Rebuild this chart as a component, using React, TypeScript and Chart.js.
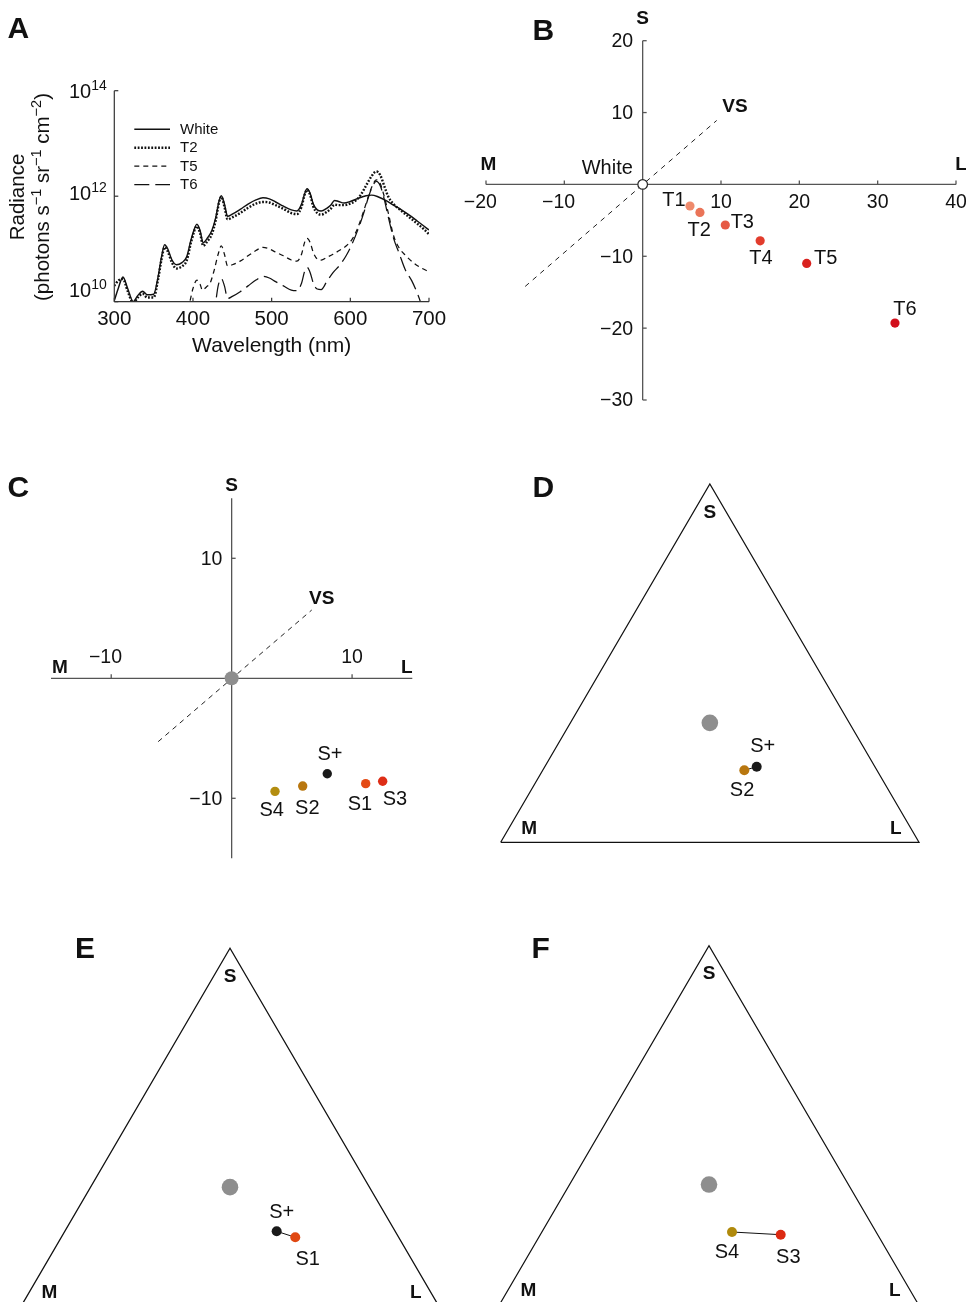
import React, { useEffect, useRef } from "react";
import { Chart, registerables } from "chart.js";

Chart.register(...registerables);

const FONT = "'Liberation Sans', Arial, Helvetica, sans-serif";
Chart.defaults.font.family = FONT;

const INK = "#111111";
const AXIS_A = "#333333";
const AXIS_B = "#555555";
const GRAY_DOT = "#8e8e8e";

// ---------------- Panel A data (wavelength nm, log10 radiance) ----------------
const whiteWl = [300,305,311,317,324,330,336,342,350,356,360,364,368,373,379,386,392,398,405,409,413,418,424,429,433,436,440,444,450,460,470,480,489,497,505,515,525,532,538,542,545,549,553,558,563,570,575,580,585,592,600,610,620,627,635,645,655,665,675,685,693,700];
const whiteLog10 = [10.02,10.25,10.47,10.25,10.0,10.12,10.2,10.13,10.14,10.5,10.85,11.08,11.0,10.8,10.7,10.74,10.85,11.2,11.47,11.35,11.12,11.2,11.35,11.6,11.9,12.01,11.85,11.62,11.66,11.75,11.85,11.93,11.97,11.95,11.89,11.81,11.74,11.72,11.85,12.05,12.14,12.05,11.85,11.74,11.72,11.77,11.83,11.92,11.9,11.87,11.9,11.96,12.01,12.02,11.99,11.92,11.83,11.74,11.64,11.53,11.44,11.36];

const t2Wl = [300,305,311,317,324,330,336,342,350,356,360,364,368,373,379,386,392,398,405,409,413,418,424,429,433,436,440,444,450,460,470,480,489,497,505,515,525,532,538,542,545,549,553,558,563,570,575,580,585,592,600,607,613,620,627,633,638,643,648,655,665,675,685,693,700];
const t2Log10 = [10.3,10.4,10.43,10.2,9.98,10.08,10.15,10.08,10.08,10.45,10.8,11.03,10.95,10.75,10.63,10.67,10.78,11.15,11.43,11.3,11.06,11.14,11.28,11.55,11.87,11.99,11.8,11.56,11.6,11.68,11.78,11.86,11.89,11.88,11.83,11.76,11.68,11.66,11.8,12.03,12.12,12.02,11.8,11.68,11.65,11.7,11.76,11.84,11.83,11.83,11.86,11.92,12.02,12.2,12.38,12.47,12.4,12.2,12.0,11.85,11.72,11.6,11.48,11.38,11.28];

const t5Wl = [350,356,362,368,376,388,396,400,405,409,412,417,422,427,432,436,440,444,450,460,470,480,489,497,505,515,525,532,538,542,545,549,553,558,563,570,578,587,595,603,610,617,623,628,633,638,643,648,655,662,670,680,690,700];
const t5Log10 = [9.6,9.85,10.03,9.85,9.5,9.6,10.0,10.25,10.41,10.33,10.22,10.28,10.36,10.6,10.9,11.06,10.9,10.68,10.7,10.77,10.87,10.97,11.03,11.0,10.94,10.87,10.79,10.77,10.9,11.13,11.2,11.12,10.93,10.81,10.79,10.84,10.9,10.98,11.06,11.2,11.42,11.72,12.0,12.2,12.31,12.24,12.0,11.7,11.25,11.02,10.88,10.74,10.64,10.57];

const t6Wl = [420,428,432,436,440,444,450,460,470,480,489,497,505,515,525,532,538,542,545,549,553,558,563,570,578,587,595,603,610,617,623,628,633,638,643,648,655,662,670,678,684,690,695,700];
const t6Log10 = [9.3,9.9,10.3,10.44,10.3,10.06,10.1,10.19,10.3,10.41,10.48,10.45,10.38,10.3,10.22,10.21,10.35,10.58,10.65,10.55,10.35,10.24,10.23,10.38,10.55,10.7,10.88,11.12,11.38,11.68,11.98,12.18,12.28,12.2,11.95,11.62,11.2,10.92,10.6,10.4,10.2,9.95,9.6,9.3];

const aXTicks = [300, 400, 500, 600, 700];
const aYTickExp = [10, 12, 14];

// ---------------- Panel B data (L, S) ----------------
const tNames = ["T1", "T2", "T3", "T4", "T5", "T6"];
const tL = [6.04, 7.31, 10.55, 15.0, 20.94, 32.21];
const tS = [-3.0, -3.9, -5.65, -7.85, -11.0, -19.3];
const whiteL = [0];
const whiteS = [0];
const vsBL = [-15.0, 9.45];
const vsBS = [-14.2, 8.9];
const bXTicks = [-20, -10, 10, 20, 30, 40];
const bYTicks = [20, 10, -10, -20, -30];

// ---------------- Panel C data (L, S) ----------------
const sNamesC = ["S4", "S2", "S+", "S1", "S3"];
const sLC = [3.6, 5.9, 7.94, 11.13, 12.54];
const sSC = [-9.42, -8.98, -7.95, -8.78, -8.58];
const greyL = [0];
const greyS = [0];
const vsCL = [-6.1, 6.65];
const vsCS = [-5.28, 5.69];
const cXTicks = [-10, 10];
const cYTicks = [10, -10];

// ---------------- Panels D, E, F (Maxwell triangle plane) ----------------
const triX = [0, 0.5, 1, 0];
const triY = [0, 0.866, 0, 0];
const centroidX = [0.5];
const centroidY = [0.2887];
const dNames = ["S+", "S2"];
const dX = [0.612, 0.5824];
const dY = [0.1827, 0.174];
const eNames = ["S+", "S1"];
const eX = [0.6116, 0.656];
const eY = [0.182, 0.1675];
const fNames = ["S4", "S3"];
const fX = [0.555, 0.6714];
const fY = [0.174, 0.1675];

// ---------------- styles ----------------
const tColors = ["#ef8a6c", "#ea7458", "#e65a44", "#e23c2c", "#d9221f", "#d20f1c"];
const cColors = ["#b38d10", "#b9770f", "#1a1a1a", "#e44a14", "#de2d16"];
const dColors = ["#1a1a1a", "#b8770f"];
const eColors = ["#1a1a1a", "#e04812"];
const fColors = ["#b08a0c", "#dc2a12"];

const tLabelOffsets = [[-16, -5], [-0.7, 18.4], [17, -2.3], [0.7, 17.6], [19, -4.7], [10, -13.3]];
const cLabelOffsets = [[-3.3, 18.7], [4.6, 22.3], [2.7, -19.7], [-5.7, 21.3], [12.3, 18.7]];
const dLabelOffsets = [[6, -20.7], [-2.3, 19.7]];
const eLabelOffsets = [[5, -18.6], [12.4, 21.7]];
const fLabelOffsets = [[-5, 20.7], [7.6, 22.6]];
const aYLabelShift = [-10, -2, 2];

type Box = { left: number; top: number; width: number; height: number };
type Area = { l: number; t: number; r: number; b: number };

const A_BOX: Box = { left: 0, top: 0, width: 470, height: 380 };
const A_AREA: Area = { l: 114.3, t: 90.7, r: 429, b: 301.7 };
const B_BOX: Box = { left: 450, top: 0, width: 516, height: 430 };
const B_AREA: Area = { l: 486, t: 40.7, r: 956, b: 400 };
const C_BOX: Box = { left: 0, top: 460, width: 470, height: 420 };
const C_AREA: Area = { l: 51, t: 498.3, r: 412.3, b: 858.3 };
const D_BOX: Box = { left: 470, top: 460, width: 496, height: 420 };
const D_AREA: Area = { l: 500.7, t: 484, r: 919, b: 842.3 };
const E_BOX: Box = { left: 0, top: 920, width: 470, height: 400 };
const E_AREA: Area = { l: 20.85, t: 948.3, r: 439.15, b: 1306.6 };
const F_BOX: Box = { left: 470, top: 920, width: 496, height: 400 };
const F_AREA: Area = { l: 499.85, t: 945.7, r: 918.15, b: 1304 };

function pad(box: Box, a: Area) {
  return { left: a.l - box.left, top: a.t - box.top, right: box.left + box.width - a.r, bottom: box.top + box.height - a.b };
}

function makeXY(xs: number[], ys: number[]) {
  return xs.map((x, i) => ({ x, y: ys[i] }));
}
function makeLogXY(xs: number[], logs: number[]) {
  return xs.map((x, i) => ({ x, y: Math.pow(10, logs[i]) }));
}

function fnt(size: number, bold = false) {
  return `${bold ? "bold " : ""}${size}px ${FONT}`;
}

function drawText(ctx: CanvasRenderingContext2D, s: string, x: number, y: number, size: number, opts: { bold?: boolean; align?: CanvasTextAlign; color?: string } = {}) {
  ctx.save();
  ctx.font = fnt(size, opts.bold);
  ctx.fillStyle = opts.color ?? INK;
  ctx.textAlign = opts.align ?? "center";
  ctx.textBaseline = "middle";
  ctx.fillText(s, x, y);
  ctx.restore();
}

// tick number whose digits are centred on the tick, with the minus sign hanging to the left
function drawTickNumber(ctx: CanvasRenderingContext2D, v: number, x: number, y: number, size: number) {
  ctx.save();
  ctx.font = fnt(size);
  const digits = String(Math.abs(v));
  const w = ctx.measureText(digits).width;
  ctx.fillStyle = INK;
  ctx.textBaseline = "middle";
  ctx.textAlign = "right";
  ctx.fillText((v < 0 ? "\u2212" : "") + digits, x + w / 2, y);
  ctx.restore();
}

type Run = { t: string; sup?: boolean };
function drawRuns(ctx: CanvasRenderingContext2D, runs: Run[], x: number, y: number, size: number, supSize: number, rise: number, align: "left" | "center" | "right") {
  ctx.save();
  ctx.textBaseline = "middle";
  ctx.textAlign = "left";
  ctx.fillStyle = INK;
  const widths = runs.map((r) => {
    ctx.font = fnt(r.sup ? supSize : size);
    return ctx.measureText(r.t).width;
  });
  const total = widths.reduce((a, b) => a + b, 0);
  let cx = align === "left" ? x : align === "center" ? x - total / 2 : x - total;
  runs.forEach((r, i) => {
    ctx.font = fnt(r.sup ? supSize : size);
    ctx.fillText(r.t, cx, r.sup ? y - rise : y);
    cx += widths[i];
  });
  ctx.restore();
}

function seg(ctx: CanvasRenderingContext2D, x1: number, y1: number, x2: number, y2: number) {
  ctx.beginPath();
  ctx.moveTo(x1, y1);
  ctx.lineTo(x2, y2);
  ctx.stroke();
}

const minus = (v: number) => (v < 0 ? "\u2212" + Math.abs(v) : String(v));

const baseOptions = (box: Box, area: Area) => ({
  animation: false,
  responsive: false,
  maintainAspectRatio: false,
  events: [],
  layout: { padding: pad(box, area), autoPadding: false },
  plugins: { legend: { display: false }, tooltip: { enabled: false }, title: { display: false } },
});

// ---------------- Panel A ----------------
const panelAPlugin = {
  id: "panelA",
  afterDatasetsDraw(chart: any) {
    const ctx: CanvasRenderingContext2D = chart.ctx;
    const ca = chart.chartArea;
    const xs = chart.scales.x;
    const ys = chart.scales.y;
    ctx.save();
    ctx.strokeStyle = AXIS_A;
    ctx.lineWidth = 1.2;
    ctx.setLineDash([]);
    seg(ctx, ca.left, ca.top, ca.left, ca.bottom);
    seg(ctx, ca.left, ca.bottom, ca.right, ca.bottom);
    aXTicks.forEach((v) => {
      const px = xs.getPixelForValue(v);
      seg(ctx, px, ca.bottom, px, ca.bottom - 4);
      drawText(ctx, String(v), px, ca.bottom + 17.5, 20.5);
    });
    aYTickExp.forEach((e, i) => {
      const py = ys.getPixelForValue(Math.pow(10, e));
      seg(ctx, ca.left, py, ca.left + 4, py);
      drawRuns(ctx, [{ t: "10" }, { t: String(e), sup: true }], ca.left - 7.5, py + aYLabelShift[i], 20, 14, 6.5, "right");
    });
    drawText(ctx, "Wavelength (nm)", (ca.left + ca.right) / 2, 346.7 - A_BOX.top, 21);
    // y title
    ctx.save();
    ctx.translate(18.3 - A_BOX.left, 197 - A_BOX.top);
    ctx.rotate(-Math.PI / 2);
    drawText(ctx, "Radiance", 0, 0, 20.5);
    ctx.restore();
    ctx.save();
    ctx.translate(43.5 - A_BOX.left, 197 - A_BOX.top);
    ctx.rotate(-Math.PI / 2);
    drawRuns(ctx, [
      { t: "(photons s" }, { t: "\u22121", sup: true }, { t: " sr" }, { t: "\u22121", sup: true }, { t: " cm" }, { t: "\u22122", sup: true }, { t: ")" },
    ], 0, 0, 20.5, 14.5, 7, "center");
    ctx.restore();
    // legend
    chart.data.datasets.forEach((ds: any, i: number) => {
      const y = ca.top + 38.6 + i * 18.4;
      ctx.strokeStyle = INK;
      ctx.lineWidth = ds.borderWidth;
      ctx.setLineDash(ds.borderDash || []);
      seg(ctx, ca.left + 20, y, ca.left + 55.7, y);
      ctx.setLineDash([]);
      drawText(ctx, ds.label, ca.left + 65.7, y + 0.5, 15, { align: "left" });
    });
    drawText(ctx, "A", 18.3 - A_BOX.left, 30 - A_BOX.top, 30, { bold: true });
    ctx.restore();
  },
};

function configA() {
  const common = { pointRadius: 0, fill: false, cubicInterpolationMode: "monotone", borderColor: INK };
  return {
    type: "line",
    data: {
      datasets: [
        { ...common, label: "White", data: makeLogXY(whiteWl, whiteLog10), borderWidth: 1.45, borderDash: [] },
        { ...common, label: "T2", data: makeLogXY(t2Wl, t2Log10), borderWidth: 2.4, borderDash: [1.8, 1.6] },
        { ...common, label: "T5", data: makeLogXY(t5Wl, t5Log10), borderWidth: 1.25, borderDash: [5, 4] },
        { ...common, label: "T6", data: makeLogXY(t6Wl, t6Log10), borderWidth: 1.25, borderDash: [15, 6] },
      ],
    },
    options: {
      ...baseOptions(A_BOX, A_AREA),
      scales: {
        x: { type: "linear", min: 300, max: 700, display: false },
        y: { type: "logarithmic", min: 1e10, max: 1e14, display: false },
      },
    },
    plugins: [panelAPlugin],
  };
}

// ---------------- Panel B ----------------
const panelBPlugin = {
  id: "panelB",
  beforeDatasetsDraw(chart: any) {
    const ctx: CanvasRenderingContext2D = chart.ctx;
    const xs = chart.scales.x;
    const ys = chart.scales.y;
    const x0 = xs.getPixelForValue(0);
    const y0 = ys.getPixelForValue(0);
    ctx.save();
    ctx.strokeStyle = AXIS_B;
    ctx.lineWidth = 1.3;
    seg(ctx, xs.getPixelForValue(-20), y0, xs.getPixelForValue(40), y0);
    seg(ctx, x0, ys.getPixelForValue(20), x0, ys.getPixelForValue(-30));
    bXTicks.forEach((v) => {
      const px = xs.getPixelForValue(v);
      seg(ctx, px, y0, px, y0 - 4);
      drawTickNumber(ctx, v, px, y0 + 18, 19.5);
    });
    bYTicks.forEach((v) => {
      const py = ys.getPixelForValue(v);
      seg(ctx, x0, py, x0 + 4, py);
      drawText(ctx, minus(v), x0 - 9.5, py + 1, 19.5, { align: "right" });
    });
    ctx.restore();
  },
  afterDatasetsDraw(chart: any) {
    const ctx: CanvasRenderingContext2D = chart.ctx;
    const xs = chart.scales.x;
    const ys = chart.scales.y;
    const x0 = xs.getPixelForValue(0);
    const y0 = ys.getPixelForValue(0);
    drawText(ctx, "S", x0, ys.getPixelForValue(20) - 22.4, 19, { bold: true });
    drawText(ctx, "M", xs.getPixelForValue(-20) + 2.3, y0 - 19.6, 19, { bold: true });
    drawText(ctx, "L", xs.getPixelForValue(40) + 5, y0 - 19.6, 19, { bold: true });
    const vsEnd = chart.getDatasetMeta(2).data[1];
    drawText(ctx, "VS", vsEnd.x + 18.3, vsEnd.y - 14, 19, { bold: true });
    drawText(ctx, "White", x0 - 35.4, y0 - 15.7, 20);
    chart.getDatasetMeta(0).data.forEach((pt: any, i: number) => {
      drawText(ctx, tNames[i], pt.x + tLabelOffsets[i][0], pt.y + tLabelOffsets[i][1], 20);
    });
    drawText(ctx, "B", 543.3 - B_BOX.left, 31.7 - B_BOX.top, 30, { bold: true });
  },
};

function configB() {
  return {
    type: "scatter",
    data: {
      datasets: [
        { label: "T", data: makeXY(tL, tS), backgroundColor: tColors, borderWidth: 0, pointRadius: 4.6, order: 0 },
        { label: "White", data: makeXY(whiteL, whiteS), backgroundColor: "#ffffff", borderColor: "#222222", borderWidth: 1.2, pointRadius: 4.8, order: 1 },
        { label: "VS", data: makeXY(vsBL, vsBS), showLine: true, borderColor: "#222222", borderWidth: 1, borderDash: [5, 5], pointRadius: 0, order: 2 },
      ],
    },
    options: {
      ...baseOptions(B_BOX, B_AREA),
      scales: {
        x: { type: "linear", min: -20, max: 40, display: false },
        y: { type: "linear", min: -30, max: 20, display: false },
      },
    },
    plugins: [panelBPlugin],
  };
}

// ---------------- Panel C ----------------
const panelCPlugin = {
  id: "panelC",
  beforeDatasetsDraw(chart: any) {
    const ctx: CanvasRenderingContext2D = chart.ctx;
    const xs = chart.scales.x;
    const ys = chart.scales.y;
    const x0 = xs.getPixelForValue(0);
    const y0 = ys.getPixelForValue(0);
    ctx.save();
    ctx.strokeStyle = AXIS_B;
    ctx.lineWidth = 1.3;
    seg(ctx, xs.getPixelForValue(-15), y0, xs.getPixelForValue(15), y0);
    seg(ctx, x0, ys.getPixelForValue(15), x0, ys.getPixelForValue(-15));
    cXTicks.forEach((v) => {
      const px = xs.getPixelForValue(v);
      seg(ctx, px, y0, px, y0 - 4);
      drawTickNumber(ctx, v, px, y0 - 20.5, 19.5);
    });
    cYTicks.forEach((v) => {
      const py = ys.getPixelForValue(v);
      seg(ctx, x0, py, x0 + 4, py);
      drawText(ctx, minus(v), x0 - 9.3, py + 1.5, 19.5, { align: "right" });
    });
    ctx.restore();
  },
  afterDatasetsDraw(chart: any) {
    const ctx: CanvasRenderingContext2D = chart.ctx;
    const xs = chart.scales.x;
    const ys = chart.scales.y;
    const x0 = xs.getPixelForValue(0);
    const y0 = ys.getPixelForValue(0);
    drawText(ctx, "S", x0, ys.getPixelForValue(15) - 12.6, 19, { bold: true });
    drawText(ctx, "M", xs.getPixelForValue(-15) + 9, y0 - 11, 19, { bold: true });
    drawText(ctx, "L", xs.getPixelForValue(15) - 5.6, y0 - 11, 19, { bold: true });
    const vsEnd = chart.getDatasetMeta(2).data[1];
    drawText(ctx, "VS", vsEnd.x + 10, vsEnd.y - 11, 19, { bold: true });
    chart.getDatasetMeta(0).data.forEach((pt: any, i: number) => {
      drawText(ctx, sNamesC[i], pt.x + cLabelOffsets[i][0], pt.y + cLabelOffsets[i][1], 20);
    });
    drawText(ctx, "C", 18.3 - C_BOX.left, 488.3 - C_BOX.top, 30, { bold: true });
  },
};

function configC() {
  return {
    type: "scatter",
    data: {
      datasets: [
        { label: "S", data: makeXY(sLC, sSC), backgroundColor: cColors, borderWidth: 0, pointRadius: 4.7, order: 0 },
        { label: "Grey", data: makeXY(greyL, greyS), backgroundColor: GRAY_DOT, borderWidth: 0, pointRadius: 7, order: 1 },
        { label: "VS", data: makeXY(vsCL, vsCS), showLine: true, borderColor: "#222222", borderWidth: 1, borderDash: [5, 4.5], pointRadius: 0, order: 2 },
      ],
    },
    options: {
      ...baseOptions(C_BOX, C_AREA),
      scales: {
        x: { type: "linear", min: -15, max: 15, display: false },
        y: { type: "linear", min: -15, max: 15, display: false },
      },
    },
    plugins: [panelCPlugin],
  };
}

// ---------------- Panels D/E/F ----------------
function configTernary(box: Box, area: Area, letter: string, letterX: number, letterY: number, names: string[], xs: number[], ys: number[], colors: string[], offsets: number[][]) {
  const plugin = {
    id: "tern" + letter,
    afterDatasetsDraw(chart: any) {
      const ctx: CanvasRenderingContext2D = chart.ctx;
      const sx = chart.scales.x;
      const sy = chart.scales.y;
      const apexX = sx.getPixelForValue(triX[1]);
      const apexY = sy.getPixelForValue(triY[1]);
      const mX = sx.getPixelForValue(triX[0]);
      const mY = sy.getPixelForValue(triY[0]);
      const lX = sx.getPixelForValue(triX[2]);
      const lY = sy.getPixelForValue(triY[2]);
      drawText(ctx, "S", apexX, apexY + 28.5, 19, { bold: true });
      drawText(ctx, "M", mX + 28.5, mY - 13.5, 19, { bold: true });
      drawText(ctx, "L", lX - 23.3, lY - 13.5, 19, { bold: true });
      chart.getDatasetMeta(0).data.forEach((pt: any, i: number) => {
        drawText(ctx, names[i], pt.x + offsets[i][0], pt.y + offsets[i][1], 20);
      });
      drawText(ctx, letter, letterX - box.left, letterY - box.top, 30, { bold: true });
    },
  };
  return {
    type: "scatter",
    data: {
      datasets: [
        { label: "stimuli", data: makeXY(xs, ys), backgroundColor: colors, borderWidth: 0, pointRadius: 5, order: 0 },
        { label: "grey", data: makeXY(centroidX, centroidY), backgroundColor: GRAY_DOT, borderWidth: 0, pointRadius: 8.3, order: 1 },
        { label: "link", data: makeXY(xs, ys), showLine: true, borderColor: INK, borderWidth: 1, pointRadius: 0, order: 2 },
        { label: "triangle", data: makeXY(triX, triY), showLine: true, borderColor: INK, borderWidth: 1.25, pointRadius: 0, clip: false, order: 3 },
      ],
    },
    options: {
      ...baseOptions(box, area),
      scales: {
        x: { type: "linear", min: 0, max: 1, display: false },
        y: { type: "linear", min: 0, max: 0.866, display: false },
      },
    },
    plugins: [plugin],
  };
}

function ChartCanvas({ box, make }: { box: Box; make: () => any }) {
  const ref = useRef<HTMLCanvasElement>(null);
  useEffect(() => {
    if (!ref.current) return;
    const chart = new Chart(ref.current, make());
    return () => chart.destroy();
  }, []);
  return (
    <canvas
      ref={ref}
      width={box.width}
      height={box.height}
      style={{ position: "absolute", left: box.left, top: box.top, width: box.width, height: box.height }}
    />
  );
}

export default function App() {
  return (
    <div style={{ position: "absolute", left: 0, top: 0, width: 966, height: 1302, overflow: "hidden", background: "#ffffff" }}>
      <ChartCanvas box={A_BOX} make={configA} />
      <ChartCanvas box={B_BOX} make={configB} />
      <ChartCanvas box={C_BOX} make={configC} />
      <ChartCanvas box={D_BOX} make={() => configTernary(D_BOX, D_AREA, "D", 543.3, 488.3, dNames, dX, dY, dColors, dLabelOffsets)} />
      <ChartCanvas box={E_BOX} make={() => configTernary(E_BOX, E_AREA, "E", 85, 950, eNames, eX, eY, eColors, eLabelOffsets)} />
      <ChartCanvas box={F_BOX} make={() => configTernary(F_BOX, F_AREA, "F", 540.7, 949.3, fNames, fX, fY, fColors, fLabelOffsets)} />
    </div>
  );
}
